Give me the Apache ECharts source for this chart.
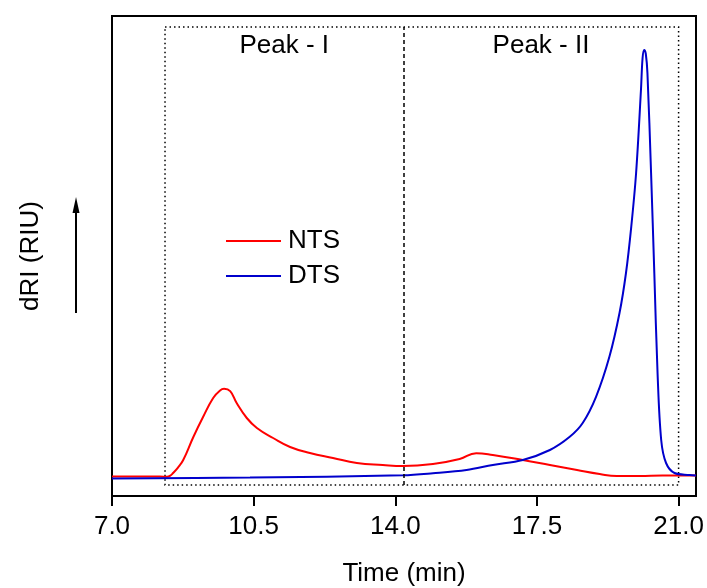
<!DOCTYPE html>
<html>
<head>
<meta charset="utf-8">
<script src="https://cdn.jsdelivr.net/npm/echarts@6/dist/echarts.min.js"></script>
<style>
  html, body { margin: 0; padding: 0; background: #ffffff; }
  #chart { width: 707px; height: 588px; }
</style>
</head>
<body>
<div id="chart"></div>
<script>
// Elution time (min) and refractive-index response (arbitrary units)
const ntsTime = [7.00, 8.00, 8.36, 8.44, 8.51, 8.63, 8.76, 9.01, 9.25, 9.50, 9.67, 9.77, 9.92, 10.08, 10.33, 10.58, 10.98, 11.40, 11.89, 12.46, 13.05, 13.69, 14.19, 14.93, 15.59, 16.00, 16.41, 17.15, 17.82, 18.49, 19.05, 19.47, 20.04, 20.60, 21.27, 21.43];
const ntsSignal = [-0.1, -0.1, -0.2, 0.1, 0.75, 2.1, 4.0, 9.75, 14.75, 19.5, 21.4, 21.8, 21.2, 18.25, 14.5, 12.0, 9.5, 7.25, 5.75, 4.5, 3.25, 2.75, 2.5, 3.0, 4.25, 5.7, 5.25, 4.0, 2.75, 1.5, 0.5, 0.0, 0.0, 0.1, 0.1, 0.1];

const dtsTime = [7.00, 10.41, 14.19, 14.93, 15.76, 16.41, 17.15, 17.82, 18.31, 18.63, 18.96, 19.29, 19.54, 19.70, 19.83, 19.95, 20.07, 20.11, 20.15, 20.19, 20.23, 20.32, 20.40, 20.48, 20.57, 20.69, 20.90, 21.27, 21.43];
const dtsSignal = [-0.6, -0.4, 0.2, 0.7, 1.5, 2.75, 4.0, 6.5, 9.8, 13.25, 19.8, 29.8, 40.75, 50.75, 62.3, 75.75, 96.5, 104.5, 106.5, 105.5, 100.75, 75.75, 50.75, 25.75, 9.0, 3.25, 0.75, 0.25, 0.1];

// Fraction windows
const peakNames = ['Peak - I', 'Peak - II'];
const peakBounds = [8.31, 14.2, 21.0];
const windowTop = 112.25;
const windowBottom = -2.25;

const xTicks = { min: 7.0, max: 21.43, interval: 3.5 };
const yRange = { min: -5, max: 115 };

const FONT = "'Liberation Sans', Arial, sans-serif";

const zip = (xs, ys) => xs.map((x, i) => [x, ys[i]]);

const chart = echarts.init(document.getElementById('chart'), null, { renderer: 'canvas' });

chart.setOption({
  backgroundColor: '#ffffff',
  animation: false,
  textStyle: { fontFamily: FONT, color: '#000' },
  grid: {
    left: 112, right: 11, top: 16, bottom: 92,
    outerBoundsMode: 'none',
    containLabel: false,
    show: true, borderColor: '#000', borderWidth: 2, backgroundColor: 'transparent'
  },
  legend: {
    orient: 'vertical',
    left: 226, top: 228,
    padding: 0,
    itemGap: 9,
    itemWidth: 55, itemHeight: 2,
    icon: 'rect',
    textStyle: { fontFamily: FONT, fontSize: 26, color: '#000', padding: [0, 0, 0, 2] },
    data: ['NTS', 'DTS']
  },
  xAxis: {
    type: 'value',
    min: xTicks.min, max: xTicks.max, interval: xTicks.interval,
    name: 'Time (min)',
    nameLocation: 'middle',
    nameGap: 65,
    nameTextStyle: { fontFamily: FONT, fontSize: 26, color: '#000' },
    axisLine: { show: true, onZero: false, lineStyle: { color: '#000', width: 2 } },
    axisTick: { show: true, inside: false, length: 10, lineStyle: { color: '#000', width: 2 } },
    axisLabel: {
      fontFamily: FONT, fontSize: 26, color: '#000', margin: 18,
      showMaxLabel: false,
      formatter: v => v.toFixed(1)
    },
    splitLine: { show: false }
  },
  yAxis: {
    type: 'value',
    min: yRange.min, max: yRange.max,
    name: 'dRI (RIU)',
    nameLocation: 'middle',
    nameGap: 68,
    nameTextStyle: { fontFamily: FONT, fontSize: 26, color: '#000' },
    axisLine: { show: false },
    axisTick: { show: false },
    axisLabel: { show: false },
    splitLine: { show: false }
  },
  graphic: [
    // upward arrow beside the y-axis title
    { type: 'line', shape: { x1: 76, y1: 313, x2: 76, y2: 210 }, style: { stroke: '#000', lineWidth: 2 } },
    { type: 'polygon', shape: { points: [[76, 197], [72.5, 213], [79.5, 213]] }, style: { fill: '#000' } }
  ],
  series: [
    {
      name: 'NTS',
      type: 'line',
      data: zip(ntsTime, ntsSignal),
      smooth: 0.45,
      showSymbol: false,
      color: '#ff0000',
      lineStyle: { color: '#ff0000', width: 2 },
      z: 3,
      markArea: {
        silent: true,
        itemStyle: { color: 'transparent' },
        label: {
          show: true, position: 'insideTop', distance: 6,
          fontFamily: FONT, fontSize: 26, color: '#000'
        },
        data: peakNames.map((n, i) => [
          { name: n, coord: [peakBounds[i], windowTop] },
          { coord: [peakBounds[i + 1], windowBottom] }
        ])
      }
    },
    {
      name: 'DTS',
      type: 'line',
      data: zip(dtsTime, dtsSignal),
      smooth: 0.35,
      showSymbol: false,
      color: '#0000cc',
      lineStyle: { color: '#0000cc', width: 2 },
      z: 4,
      markArea: {
        silent: true,
        itemStyle: { color: 'transparent', borderColor: '#000', borderWidth: 1.5, borderType: [1.5, 3] },
        label: { show: false },
        data: [[
          { coord: [peakBounds[0], windowTop] },
          { coord: [peakBounds[2], windowBottom] }
        ]]
      },
      markLine: {
        silent: true,
        symbol: 'none',
        label: { show: false },
        lineStyle: { color: '#000', width: 1.5, type: [4, 3] },
        data: [[
          { coord: [peakBounds[1], windowBottom] },
          { coord: [peakBounds[1], windowTop] }
        ]]
      }
    }
  ]
});
</script>
</body>
</html>
